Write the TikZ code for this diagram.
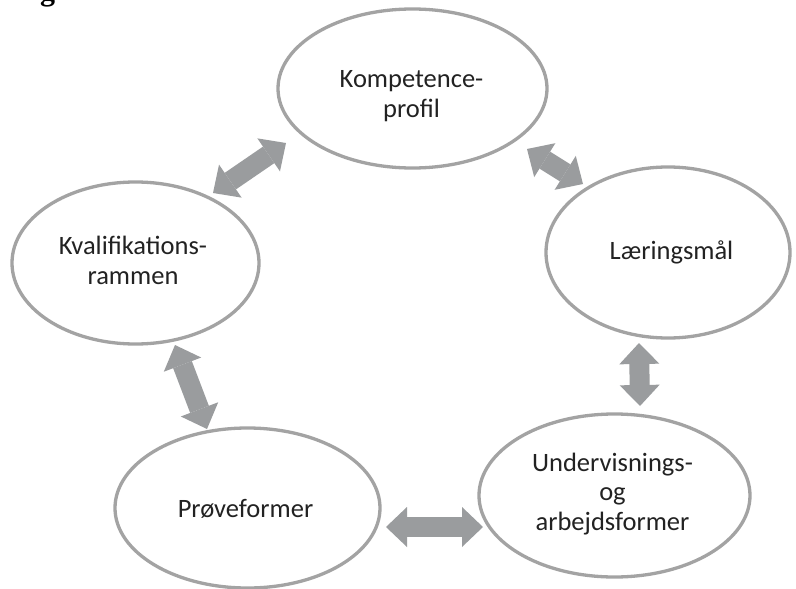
\documentclass[tikz,border=0pt]{standalone}
\usepackage{fontspec}
\setmainfont{Carlito}
\newfontfamily\headfont{Liberation Serif}
\usetikzlibrary{arrows.meta,shapes.geometric}
\definecolor{ringgray}{HTML}{A3A3A3}
\definecolor{arrowgray}{HTML}{9A9C9E}
\definecolor{txtgray}{HTML}{222222}
\begin{document}
\begin{tikzpicture}[x=1pt,y=-1pt,
  ring/.style={draw=ringgray,line width=3.3pt,ellipse,inner sep=0pt},
  lbl/.style={align=center,font=\fontsize{26.5}{29.5}\selectfont,text=txtgray,inner sep=0pt,anchor=base},
  link/.style={draw=arrowgray,line width=20pt,
    {Triangle[width=40pt 0,length=21pt 0 0,line width=0pt]}-{Triangle[width=40pt 0,length=21pt 0 0,line width=0pt]}}]
\clip (0,0) rectangle (796,589);
\fill[white] (0,0) rectangle (796,589);
\node[anchor=base west,inner sep=0pt,font=\headfont\bfseries\fontsize{30}{30}\selectfont] (fig) at (40,0.5) {g};
% ellipses
\node[ring,minimum width=269pt,minimum height=159pt] (komp) at (412.5,88.5) {};
\node[ring,minimum width=247pt,minimum height=162pt] (kval) at (135.5,263) {};
\node[ring,minimum width=244pt,minimum height=171pt] (laer) at (668,252.5) {};
\node[ring,minimum width=271pt,minimum height=163pt] (underv) at (614.5,495.5) {};
\node[ring,minimum width=265pt,minimum height=160pt] (prove) at (247.5,508) {};
% labels (anchor = baseline of the last line)
\node[lbl] (kompT) at (411.5,117) {Kompetence-\\profil};
\node[lbl] (kvalT) at (133,284) {Kvalifikations-\\rammen};
\node[lbl] (laerT) at (671.5,259) {Læringsmål};
\node[lbl] (undervT) at (612.5,530) {Undervisnings-\\og\\arbejdsformer};
\node[lbl] (proveT) at (245.5,517) {Prøveformer};
% arrow ends
\coordinate (a1s) at (213,193);
\coordinate (a1e) at (286,143);
\coordinate (a2s) at (527,149);
\coordinate (a2e) at (583,184);
\coordinate (a3s) at (639,343);
\coordinate (a3e) at (640,406);
\coordinate (a4s) at (175,345);
\coordinate (a4e) at (207,429);
\coordinate (a5s) at (386,527);
\coordinate (a5e) at (483,527);
\draw[link] (a1s) -- (a1e);
\draw[link] (a2s) -- (a2e);
\draw[link] (a3s) -- (a3e);
\draw[link] (a4s) -- (a4e);
\draw[link] (a5s) -- (a5e);
\end{tikzpicture}
\end{document}
